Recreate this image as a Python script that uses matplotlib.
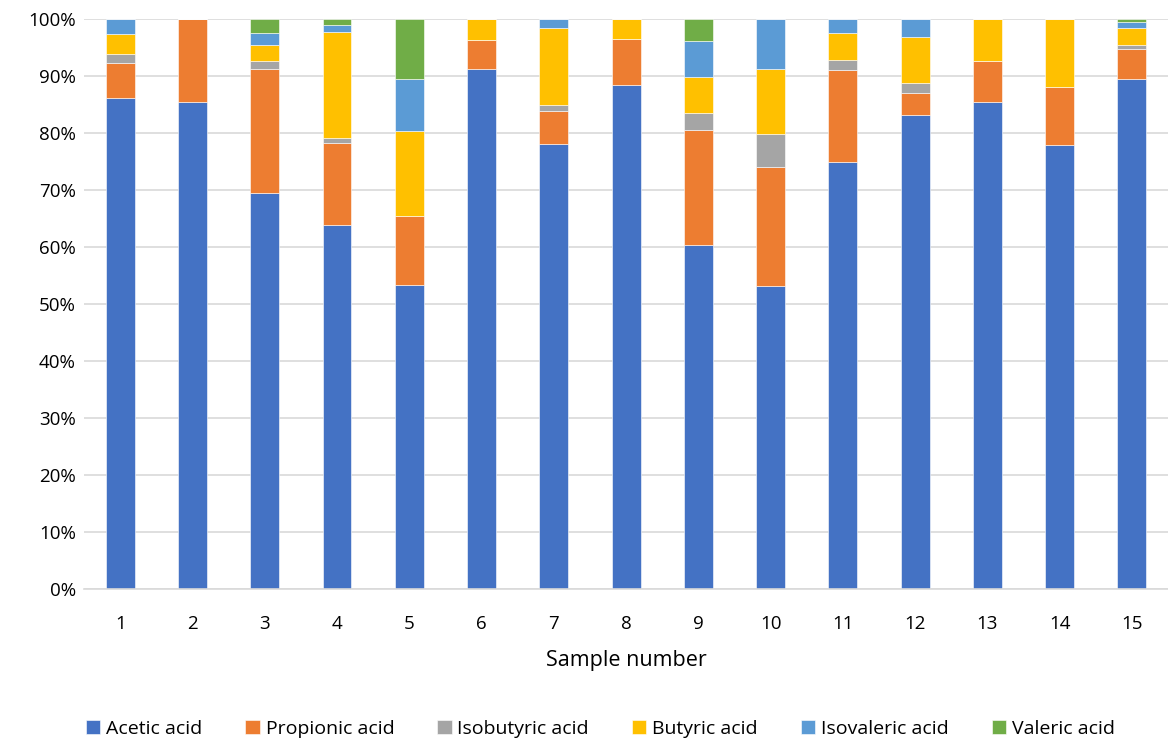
import numpy as np
import matplotlib
matplotlib.use("Agg")
import matplotlib.pyplot as plt
from matplotlib.ticker import PercentFormatter

plt.rcParams['font.family'] = ['Open Sans', 'DejaVu Sans']

samples = [str(i) for i in range(1, 16)]

# share of each acid, %
acetic = [86.1, 85.5, 69.4, 63.8, 53.3, 91.3, 78.1, 88.4, 60.4, 53.1, 74.9, 83.2, 85.5, 77.9, 89.4]
propionic = [6.2, 14.5, 21.9, 14.5, 12.1, 5.0, 5.8, 8.1, 20.2, 20.9, 16.2, 3.9, 7.2, 10.1, 5.4]
isobutyric = [1.6, 0.0, 1.4, 0.9, 0.0, 0.0, 1.0, 0.0, 3.0, 5.8, 1.7, 1.7, 0.0, 0.0, 0.6]
butyric = [3.5, 0.0, 2.7, 18.6, 14.9, 3.7, 13.6, 3.5, 6.3, 11.4, 4.7, 8.0, 7.3, 12.0, 3.0]
isovaleric = [2.6, 0.0, 2.1, 1.1, 9.2, 0.0, 1.5, 0.0, 6.2, 8.8, 2.5, 3.2, 0.0, 0.0, 1.0]
valeric = [0.0, 0.0, 2.5, 1.1, 10.5, 0.0, 0.0, 0.0, 3.9, 0.0, 0.0, 0.0, 0.0, 0.0, 0.6]

series = [
    ("Acetic acid", acetic, "#4472C4"),
    ("Propionic acid", propionic, "#ED7D31"),
    ("Isobutyric acid", isobutyric, "#A5A5A5"),
    ("Butyric acid", butyric, "#FFC000"),
    ("Isovaleric acid", isovaleric, "#5B9BD5"),
    ("Valeric acid", valeric, "#70AD47"),
]

fig = plt.figure(figsize=(11.68, 7.47), dpi=100)
ax = fig.add_axes([0.072, 0.2115, 0.928, 0.763])

x = np.arange(1, len(samples) + 1)
total = np.sum([s[1] for s in series], axis=0)
bottom = np.zeros(len(samples))
for name, vals, color in series:
    v = np.array(vals) / total * 100
    ax.bar(x, v, width=0.4, bottom=bottom, color=color, label=name,
           edgecolor='white', linewidth=0.4, zorder=2)
    bottom += v

ax.set_xlim(0.5, 15.5)
ax.set_ylim(0, 100)
ax.set_yticks(range(0, 101, 10))
ax.yaxis.set_major_formatter(PercentFormatter(decimals=0))
ax.set_xticks(x)
ax.set_xticklabels(samples)
ax.grid(axis='y', color='#D9D9D9', linewidth=1.2, zorder=0)
for s in ['top', 'right', 'left']:
    ax.spines[s].set_visible(False)
ax.spines['bottom'].set_color('#D9D9D9')
ax.spines['bottom'].set_linewidth(1.2)
ax.tick_params(axis='both', length=0, labelsize=13.5, colors='#000000')
ax.tick_params(axis='x', pad=19)
ax.tick_params(axis='y', pad=6)
ax.set_xlabel("Sample number", fontsize=15.5, labelpad=12)

ax.legend(loc='center', bbox_to_anchor=(0.514, 0.024), bbox_transform=fig.transFigure,
          ncol=6, frameon=False, fontsize=14, handlelength=0.75, handleheight=0.75,
          handletextpad=0.3, columnspacing=2.2)

fig.savefig("out.png", dpi=100)
